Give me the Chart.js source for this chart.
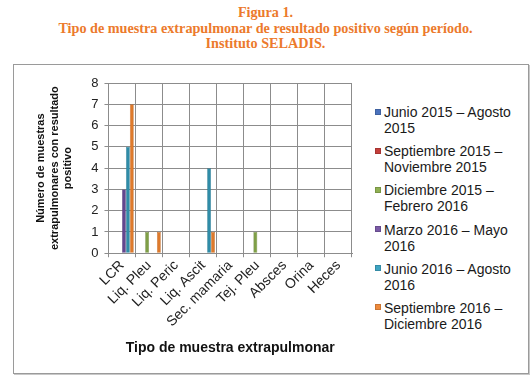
<!DOCTYPE html>
<html>
<head>
<meta charset="utf-8">
<script src="https://cdn.jsdelivr.net/npm/chart.js@4"></script>
<style>
  body { margin: 0; background: #fff; width: 531px; height: 382px; position: relative; overflow: hidden; }
  #titulo {
    position: absolute; left: 0; top: 5px; width: 531px; text-align: center;
    font-family: "Liberation Serif", serif; font-weight: bold; font-size: 14.2px;
    line-height: 15.5px; color: #ec7a2c;
  }
  #marco {
    position: absolute; left: 13px; top: 64px; width: 514px; height: 308px;
    border: 1px solid #9a9a9a; box-shadow: 1px 1px 0 #c8c8c8;
  }
  #grafico { position: absolute; left: 0; top: 1px; }
  #leyenda {
    position: absolute; left: 361px; top: 39px; width: 150px;
    font-family: "Liberation Sans", Arial, sans-serif; font-size: 14px; line-height: 16px; color: #1a1a1a;
  }
  .item { position: relative; padding-left: 9px; margin-bottom: 7.2px; white-space: nowrap; }
  .caja {
    position: absolute; left: 0; top: 4.5px; width: 6px; height: 6px;
    box-shadow: inset 0 0 0 1px rgba(0,0,0,0.15);
  }
</style>
</head>
<body>
<div id="titulo">Figura 1.<br>Tipo de muestra extrapulmonar de resultado positivo según período.<br>Instituto SELADIS.</div>
<div id="marco">
  <canvas id="grafico" width="352" height="306"></canvas>
  <div id="leyenda"></div>
</div>
<script>
// categorias del eje x
const tiposMuestra = ["LCR", "Liq. Pleu", "Liq. Peric", "Liq. Ascit", "Sec. mamaria", "Tej. Pleu", "Absces", "Orina", "Heces"];

// periodos (leyenda, en dos lineas)
const periodos = [
  ["Junio 2015 – Agosto", "2015"],
  ["Septiembre 2015 –", "Noviembre 2015"],
  ["Diciembre 2015 –", "Febrero 2016"],
  ["Marzo 2016 – Mayo", "2016"],
  ["Junio 2016 – Agosto", "2016"],
  ["Septiembre 2016 –", "Diciembre 2016"]
];

// numero de muestras por periodo
const jun15ago15 = [0, 0, 0, 0, 0, 0, 0, 0, 0];
const sep15nov15 = [0, 0, 0, 0, 0, 0, 0, 0, 0];
const dic15feb16 = [0, 1, 0, 0, 0, 1, 0, 0, 0];
const mar16may16 = [3, 0, 0, 0, 0, 0, 0, 0, 0];
const jun16ago16 = [5, 0, 0, 4, 0, 0, 0, 0, 0];
const sep16dic16 = [7, 1, 0, 1, 0, 0, 0, 0, 0];

// ticks del eje y
const ticksY = [0, 1, 2, 3, 4, 5, 6, 7, 8];

const series = [jun15ago15, sep15nov15, dic15feb16, mar16may16, jun16ago16, sep16dic16];
const colores = ["#3d63a8", "#b83a34", "#7f9f47", "#62468f", "#2f8ca8", "#de7a2c"];
const coloresLeyenda = ["#4a72bd", "#c43e3a", "#8fb052", "#7a5aa6", "#3ea4c2", "#ee8a3c"];
const bordes = ["#2c4a80", "#8e2a26", "#627a35", "#4a346d", "#226b80", "#b05f20"];

const fuente = "'Liberation Sans', Arial, sans-serif";

/**
 * Leyenda en HTML (texto en dos lineas)
 */
function armarLeyenda() {
  const cont = document.getElementById("leyenda");
  periodos.forEach((lineas, i) => {
    const item = document.createElement("div");
    item.className = "item";
    const caja = document.createElement("span");
    caja.className = "caja";
    caja.style.background = coloresLeyenda[i];
    item.appendChild(caja);
    item.appendChild(document.createTextNode(lineas[0]));
    item.appendChild(document.createElement("br"));
    item.appendChild(document.createTextNode(lineas[1]));
    cont.appendChild(item);
  });
}

/**
 * Grafico de barras
 */
function initGrafico() {
  const ctx = document.getElementById("grafico").getContext("2d");
  new Chart(ctx, {
    type: "bar",
    data: {
      labels: tiposMuestra,
      datasets: series.map((valores, i) => ({
        label: periodos[i].join(" "),
        data: valores,
        backgroundColor: colores[i],
        borderColor: bordes[i],
        borderWidth: 0.5,
        barPercentage: 1.0,
        categoryPercentage: 0.87
      }))
    },
    options: {
      responsive: false,
      animation: false,
      layout: { padding: { left: 20, right: 14, top: 17, bottom: 15 } },
      plugins: {
        tooltip: { enabled: false },
        legend: { display: false }
      },
      scales: {
        x: {
          grid: { color: "#8c8c8c", tickLength: 4 },
          border: { color: "#8c8c8c" },
          ticks: {
            font: { family: fuente, size: 14 },
            color: "#222",
            autoSkip: false,
            minRotation: 45,
            maxRotation: 45,
            padding: 0
          },
          title: {
            display: true,
            text: "Tipo de muestra extrapulmonar",
            font: { family: fuente, size: 14, weight: "bold" },
            color: "#111",
            padding: { top: 10, bottom: 0 }
          }
        },
        y: {
          min: ticksY[0],
          max: ticksY[ticksY.length - 1],
          grid: { color: "#8c8c8c", tickLength: 4 },
          border: { color: "#8c8c8c" },
          afterBuildTicks: (scale) => {
            scale.ticks = ticksY.map(v => ({ value: v }));
          },
          ticks: {
            font: { family: fuente, size: 13 },
            color: "#222",
            padding: 6
          },
          title: {
            display: true,
            text: ["Número de muestras", "extrapulmonares con resultado", "positivo"],
            font: { family: fuente, size: 11, weight: "bold", lineHeight: 1.25 },
            color: "#111",
            padding: { top: 0, bottom: 10 }
          }
        }
      }
    }
  });
}

window.onload = () => {
  armarLeyenda();
  initGrafico();
};
</script>
</body>
</html>
